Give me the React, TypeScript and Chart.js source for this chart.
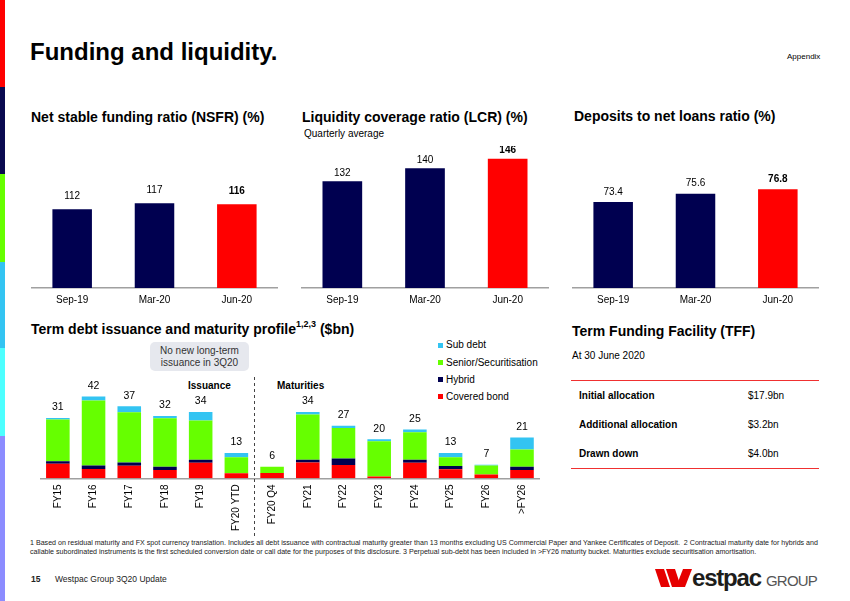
import React, { useEffect, useRef } from 'react';
import { Chart, registerables } from 'chart.js';

Chart.register(...registerables);

const FONT = '"Liberation Sans", Arial, Helvetica, sans-serif';
Chart.defaults.font.family = FONT;
Chart.defaults.color = '#000';

// ---------- data ----------
const periods = ['Sep-19', 'Mar-20', 'Jun-20'];
const nsfrValues = [112, 117, 116];
const lcrValues = [132, 140, 146];
const depositValues = [73.4, 75.6, 76.8];

const termCategories = ['FY15', 'FY16', 'FY17', 'FY18', 'FY19', 'FY20 YTD', 'FY20 Q4', 'FY21', 'FY22', 'FY23', 'FY24', 'FY25', 'FY26', '>FY26'];
const coveredBond = [7.5, 4.8, 6.4, 4.3, 8.0, 2.6, 2.7, 8.1, 6.9, 0.9, 8.0, 4.6, 2.0, 4.3];
const hybrid = [1.3, 1.8, 1.7, 1.7, 1.5, 0, 0, 1.4, 3.3, 0, 1.5, 1.7, 0, 1.7];
const seniorSecuritisation = [21.4, 33.3, 25.8, 24.8, 20.2, 8.2, 3.3, 23.3, 15.6, 18.1, 14.2, 4.5, 4.6, 8.8];
const subDebt = [0.8, 2.1, 3.1, 1.2, 4.3, 2.2, 0, 1.2, 1.2, 1.0, 1.3, 2.2, 0.4, 6.2];
const termTotals = [31, 42, 37, 32, 34, 13, 6, 34, 27, 20, 25, 13, 7, 21];

const tffLabels = ['Initial allocation', 'Additional allocation', 'Drawn down'];
const tffValues = ['$17.9bn', '$3.2bn', '$4.0bn'];

// ---------- colours ----------
const NAVY = '#000050';
const RED = '#ff0000';
const GREEN = '#66ff00';
const SKY = '#33c4f2';
const AXIS = '#a0a0a0';

const termSeries = [
  { name: 'Covered bond', values: coveredBond, color: RED },
  { name: 'Hybrid', values: hybrid, color: NAVY },
  { name: 'Senior/Securitisation', values: seniorSecuritisation, color: GREEN },
  { name: 'Sub debt', values: subDebt, color: SKY },
];

type SmallProps = {
  left: number; top: number; width: number; height: number;
  values: number[]; min: number; max: number; offset: number; decimals: number;
};

function SmallBarChart(p: SmallProps) {
  const ref = useRef<HTMLCanvasElement>(null);
  useEffect(() => {
    const labelPlugin = {
      id: 'valueLabels',
      afterDatasetsDraw(chart: any) {
        const ctx = chart.ctx;
        const meta = chart.getDatasetMeta(0);
        ctx.save();
        ctx.textAlign = 'center';
        ctx.textBaseline = 'middle';
        meta.data.forEach((bar: any, i: number) => {
          const last = i === p.values.length - 1;
          ctx.font = `${last ? 'bold ' : ''}10px ${FONT}`;
          ctx.fillStyle = '#000';
          ctx.fillText(p.values[i].toFixed(p.decimals), bar.x, bar.y - p.offset);
        });
        ctx.restore();
      },
    };
    const chart = new Chart(ref.current!, {
      type: 'bar',
      data: {
        labels: periods,
        datasets: [{
          data: p.values,
          backgroundColor: p.values.map((_, i) => (i === p.values.length - 1 ? RED : NAVY)),
          borderWidth: 0,
          barPercentage: 0.48,
          categoryPercentage: 1,
        }],
      },
      options: {
        animation: false,
        responsive: false,
        maintainAspectRatio: false,
        layout: { padding: 0 },
        plugins: { legend: { display: false }, tooltip: { enabled: false } },
        scales: {
          x: {
            grid: { display: false, drawTicks: false },
            border: { display: true, color: AXIS, width: 1.5 },
            ticks: { font: { size: 10 }, color: '#000', padding: 6 },
          },
          y: { display: false, min: p.min, max: p.max },
        },
      },
      plugins: [labelPlugin],
    });
    return () => chart.destroy();
  }, []);
  return (
    <canvas
      ref={ref}
      width={p.width}
      height={p.height}
      style={{ position: 'absolute', left: p.left, top: p.top, width: p.width, height: p.height }}
    />
  );
}

function TermDebtChart() {
  const ref = useRef<HTMLCanvasElement>(null);
  useEffect(() => {
    const extras = {
      id: 'termExtras',
      afterDatasetsDraw(chart: any) {
        const ctx = chart.ctx;
        const xs = chart.scales.x;
        const ys = chart.scales.y;
        ctx.save();
        ctx.textAlign = 'center';
        ctx.textBaseline = 'middle';
        ctx.font = `10.5px ${FONT}`;
        ctx.fillStyle = '#000';
        termTotals.forEach((t, i) => {
          ctx.fillText(String(t), xs.getPixelForValue(i), ys.getPixelForValue(t) - 10.5);
        });
        // dashed separator between issuance and maturities
        const sx = Math.round((xs.getPixelForValue(5) + xs.getPixelForValue(6)) / 2) + 0.5;
        ctx.strokeStyle = '#444';
        ctx.lineWidth = 1;
        ctx.setLineDash([3, 3]);
        ctx.beginPath();
        ctx.moveTo(sx, 0);
        ctx.lineTo(sx, chart.height);
        ctx.stroke();
        ctx.restore();
      },
    };
    const chart = new Chart(ref.current!, {
      type: 'bar',
      data: {
        labels: termCategories,
        datasets: termSeries.map((s) => ({
          label: s.name,
          data: s.values,
          backgroundColor: s.color,
          borderWidth: 0,
          barPercentage: 0.66,
          categoryPercentage: 1,
        })),
      },
      options: {
        animation: false,
        responsive: false,
        maintainAspectRatio: false,
        layout: { padding: 0 },
        plugins: { legend: { display: false }, tooltip: { enabled: false } },
        scales: {
          x: {
            stacked: true,
            grid: { display: false, drawTicks: false },
            border: { display: true, color: AXIS, width: 1.5 },
            ticks: { font: { size: 10 }, color: '#000', padding: 6, minRotation: 90, maxRotation: 90, autoSkip: false },
          },
          y: { stacked: true, display: false, min: 0, max: 52 },
        },
      },
      plugins: [extras],
    });
    return () => chart.destroy();
  }, []);
  return (
    <canvas
      ref={ref}
      width={500}
      height={160}
      style={{ position: 'absolute', left: 40, top: 377, width: 500, height: 160 }}
    />
  );
}

function T(props: { x: number; cy: number; size: number; bold?: boolean; color?: string; children: any; style?: any }) {
  return (
    <div
      style={{
        position: 'absolute',
        left: props.x,
        top: props.cy - props.size * 0.49,
        fontSize: props.size,
        lineHeight: 1,
        fontWeight: props.bold ? 'bold' : 'normal',
        color: props.color || '#000',
        whiteSpace: 'nowrap',
        ...(props.style || {}),
      }}
    >
      {props.children}
    </div>
  );
}

const stripe = [
  { y0: 0, y1: 87, c: '#ff0000' },
  { y0: 87, y1: 174, c: '#0a0a50' },
  { y0: 174, y1: 262, c: '#66ff00' },
  { y0: 262, y1: 348, c: '#33c4f2' },
  { y0: 348, y1: 436, c: '#4dffff' },
  { y0: 436, y1: 601, c: '#8c8cff' },
];

export default function App() {
  const legendItems = [...termSeries].reverse();
  return (
    <div
      style={{
        position: 'fixed', left: 0, top: 0, width: 850, height: 601, overflow: 'hidden',
        background: '#fff', fontFamily: FONT, color: '#000',
      }}
    >
      {stripe.map((s, i) => (
        <div key={i} style={{ position: 'absolute', left: 0, top: s.y0, width: 5, height: s.y1 - s.y0, background: s.c }} />
      ))}

      <T x={30} cy={51.5} size={24} bold>Funding and liquidity.</T>
      <T x={787} cy={57} size={8}>Appendix</T>

      <T x={31} cy={116.5} size={14} bold>Net stable funding ratio (NSFR) (%)</T>
      <T x={302} cy={117} size={14} bold>Liquidity coverage ratio (LCR) (%)</T>
      <T x={304} cy={134} size={10}>Quarterly average</T>
      <T x={574} cy={116} size={14} bold>Deposits to net loans ratio (%)</T>

      <SmallBarChart left={31} top={146} width={247} height={166} values={nsfrValues} min={47.8} max={163.6} offset={13} decimals={0} />
      <SmallBarChart left={301} top={146} width={248} height={166} values={lcrValues} min={65.4} max={153.9} offset={8} decimals={0} />
      <SmallBarChart left={572} top={146} width={247} height={166} values={depositValues} min={50.3} max={88.4} offset={10} decimals={1} />

      <T x={31} cy={329} size={14} bold>
        Term debt issuance and maturity profile<sup style={{ fontSize: 9, verticalAlign: 'top', position: 'relative', top: -2 }}>1,2,3</sup> ($bn)
      </T>

      <div
        style={{
          position: 'absolute', left: 150, top: 342, width: 99, height: 29, borderRadius: 5,
          background: '#e6e8ee', color: '#333', fontSize: 10, lineHeight: '11.5px', textAlign: 'center',
          paddingTop: 3, boxSizing: 'border-box',
        }}
      >
        No new long-term<br />issuance in 3Q20
      </div>
      <T x={188} cy={385.5} size={10} bold>Issuance</T>
      <T x={277} cy={385.5} size={10} bold>Maturities</T>

      {legendItems.map((s, i) => (
        <React.Fragment key={s.name}>
          <div style={{ position: 'absolute', left: 438, top: 345.3 + i * 17.2 - 2.5, width: 5, height: 5, background: s.color }} />
          <T x={446} cy={345.3 + i * 17.2} size={10}>{s.name}</T>
        </React.Fragment>
      ))}

      <TermDebtChart />

      <T x={572} cy={330.7} size={14} bold>Term Funding Facility (TFF)</T>
      <T x={572} cy={356} size={10}>At 30 June 2020</T>
      <div style={{ position: 'absolute', left: 571, top: 379.5, width: 248, height: 1.5, background: '#f03030' }} />
      {tffLabels.map((l, i) => (
        <React.Fragment key={l}>
          <T x={579} cy={395.7 + i * 29.3} size={10} bold>{l}</T>
          <T x={748} cy={395.7 + i * 29.3} size={10}>{tffValues[i]}</T>
        </React.Fragment>
      ))}
      <div style={{ position: 'absolute', left: 571, top: 467.5, width: 248, height: 1.5, background: '#f03030' }} />

      <T x={30} cy={543} size={7.1} color="#222">
        1 Based on residual maturity and FX spot currency translation. Includes all debt issuance with contractual maturity greater than 13 months excluding US Commercial Paper and Yankee Certificates of Deposit.&nbsp; 2 Contractual maturity date for hybrids and
      </T>
      <T x={30} cy={552} size={7.1} color="#222">
        callable subordinated instruments is the first scheduled conversion date or call date for the purposes of this disclosure. 3 Perpetual sub-debt has been included in &gt;FY26 maturity bucket. Maturities exclude securitisation amortisation.
      </T>

      <T x={31} cy={579} size={8.5} bold color="#222">15</T>
      <T x={55} cy={579} size={8.5} color="#222">Westpac Group 3Q20 Update</T>

      <svg style={{ position: 'absolute', left: 655, top: 569 }} width={40} height={19} viewBox="0 0 40 19">
        <polygon points="0,0 9,0 15,18 6,18" fill="#e60000" />
        <polygon points="11,0 20,0 26,18 17,18" fill="#e60000" />
        <polygon points="28,0 37,0 30,18 21,18" fill="#e60000" />
      </svg>
      <div style={{ position: 'absolute', left: 692, top: 565.7, fontSize: 24, lineHeight: 1, fontWeight: 'bold', letterSpacing: -1.2, color: '#1d1d1b' }}>estpac</div>
      <div style={{ position: 'absolute', left: 766, top: 573.3, fontSize: 15, lineHeight: 1, letterSpacing: -0.8, color: '#555' }}>GROUP</div>
    </div>
  );
}
